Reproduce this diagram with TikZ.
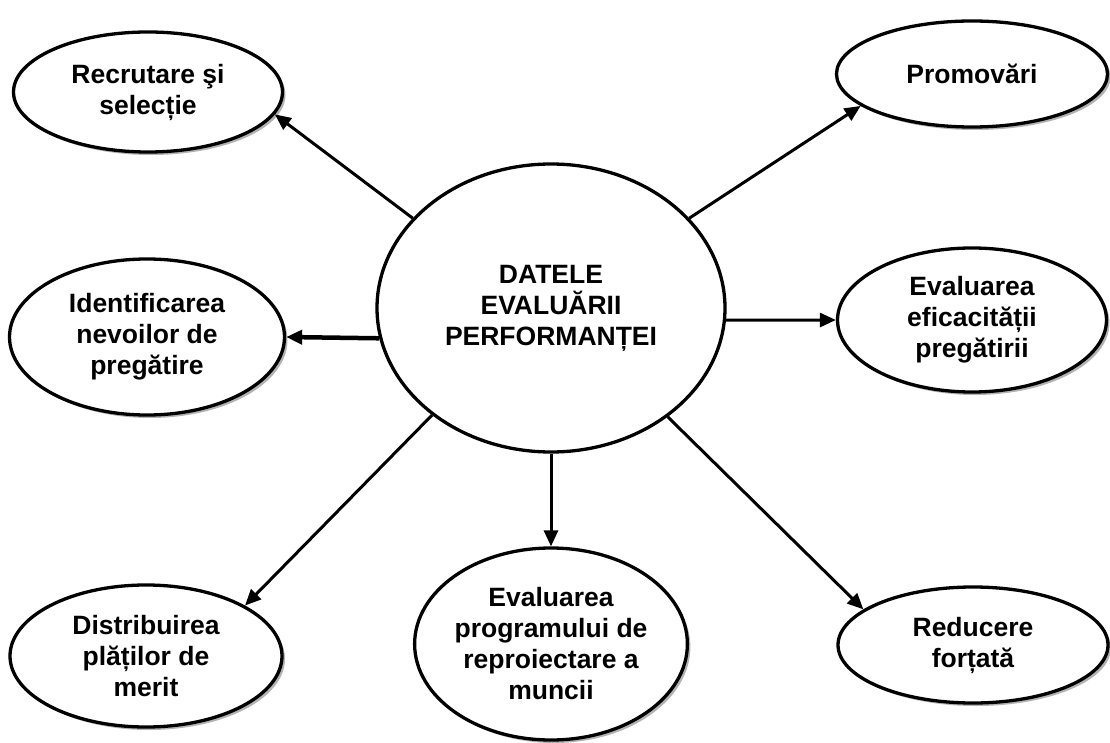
\documentclass[tikz,border=0pt]{standalone}
\usepackage{fontspec}
\setmainfont{Liberation Sans}
\usetikzlibrary{arrows.meta,shapes.geometric,shadows}

\begin{document}
\begin{tikzpicture}[x=1pt,y=-1pt,
box/.style={draw,ellipse,line width=3.3pt,inner sep=0pt,align=center,fill=white,
    font=\bfseries\fontsize{26.5}{31}\selectfont},
leaf/.style={box,drop shadow={shadow xshift=3pt,shadow yshift=-3pt,fill=gray,opacity=.6}},
link/.style={-{Triangle[length=16pt,width=14pt]},line width=3pt},
>=latex]
\useasboundingbox (0,0) rectangle (1110,743);

\node[box,minimum width=348pt,minimum height=288pt] (core) at (551,308)
    {DATELE\\EVALUĂRII\\PERFORMANȚEI};

\node[leaf,minimum width=269pt,minimum height=120pt] (rec) at (148,92) {Recrutare şi\\selecție};
\node[leaf,minimum width=271pt,minimum height=106pt] (pro) at (972,74) {Promovări};
\node[leaf,minimum width=275pt,minimum height=156pt] (ide) at (147,337) {Identificarea\\nevoilor de\\pregătire};
\node[leaf,minimum width=269pt,minimum height=144pt] (efi) at (972,320) {Evaluarea\\eficacității\\pregătirii};
\node[leaf,minimum width=272pt,minimum height=142pt] (dis) at (146,656) {Distribuirea\\plăților de\\merit};
\node[leaf,minimum width=272pt,minimum height=192pt] (prg) at (551,644) {Evaluarea\\programului de\\reproiectare a\\muncii};
\node[leaf,minimum width=270pt,minimum height=116pt] (red) at (973,645) {Reducere\\forțată};

\foreach \nm/\ao/\ai in {rec/147/-10,pro/33/196,efi/-4/180,dis/222/27,prg/270/90,red/-43/162}
\draw[link] (core.\ao) -- (\nm.\ai);
\draw[link,line width=4.5pt] (core.190) -- (ide.0);
\end{tikzpicture}
\end{document}
